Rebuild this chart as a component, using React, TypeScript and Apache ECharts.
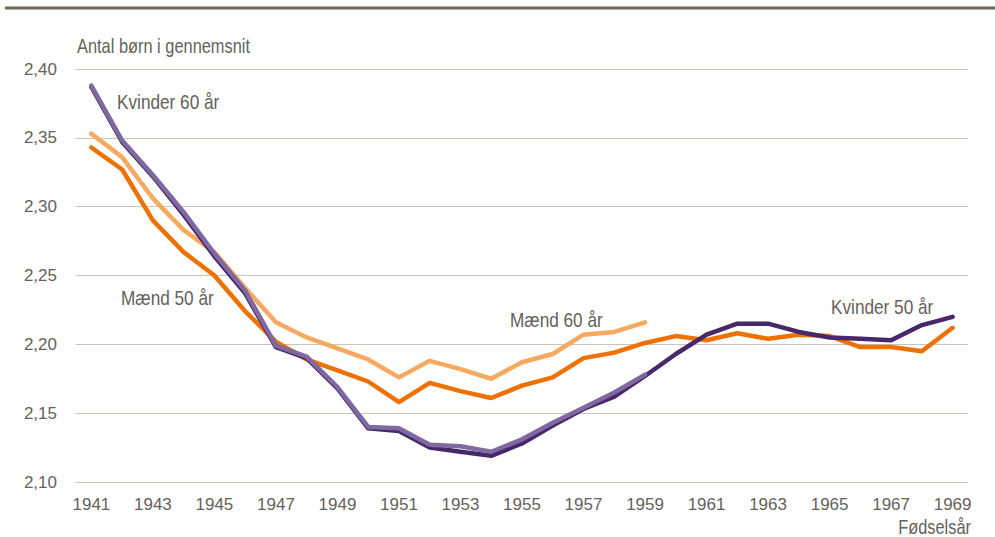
import React, { useEffect, useRef } from "react";
import * as echarts from "echarts";

const years = [
  "1941","1942","1943","1944","1945","1946","1947","1948","1949","1950",
  "1951","1952","1953","1954","1955","1956","1957","1958","1959","1960",
  "1961","1962","1963","1964","1965","1966","1967","1968","1969",
];

const maend50 = [
  2.343, 2.327, 2.290, 2.267, 2.250, 2.224, 2.202, 2.189, 2.181, 2.173,
  2.158, 2.172, 2.166, 2.161, 2.170, 2.176, 2.190, 2.194, 2.201, 2.206,
  2.203, 2.208, 2.204, 2.207, 2.206, 2.198, 2.198, 2.195, 2.212,
];

const maend60 = [
  2.353, 2.336, 2.306, 2.283, 2.267, 2.241, 2.216, 2.205, 2.197, 2.189,
  2.176, 2.188, 2.182, 2.175, 2.187, 2.193, 2.207, 2.209, 2.216,
];

const kvinder50 = [
  2.387, 2.347, 2.322, 2.294, 2.264, 2.237, 2.198, 2.190, 2.168, 2.139,
  2.137, 2.125, 2.122, 2.119, 2.128, 2.141, 2.153, 2.162, 2.177, 2.193,
  2.207, 2.215, 2.215, 2.209, 2.205, 2.204, 2.203, 2.214, 2.220,
];

const kvinder60 = [
  2.388, 2.348, 2.323, 2.296, 2.266, 2.239, 2.199, 2.191, 2.169, 2.140,
  2.139, 2.127, 2.126, 2.122, 2.131, 2.143, 2.154, 2.165, 2.178,
];

const FONT = "'Liberation Sans', Arial, sans-serif";
const TEXT = "#64625a";
const GRID = "#c9c6b7";
const NARROW = 0.82;

export default function App() {
  const ref = useRef<HTMLDivElement>(null);
  useEffect(() => {
    if (!ref.current) return;
    const chart = echarts.init(ref.current, null, { renderer: "svg" });
    const line = (name: string, data: number[], color: string, width: number) => ({
      name,
      type: "line",
      data,
      symbol: "none",
      lineStyle: { color, width, join: "round", cap: "round" },
      itemStyle: { color },
      silent: true,
    });
    const label = (text: string, x: number, y: number, align: string, size: number) => ({
      type: "text",
      x,
      y,
      scaleX: NARROW,
      style: { text, fill: TEXT, font: `${size}px ${FONT}`, verticalAlign: "middle", align },
    });
    chart.setOption({
      animation: false,
      grid: { left: 76, right: 27, top: 69, bottom: 55 },
      xAxis: {
        type: "category",
        data: years,
        boundaryGap: true,
        axisLine: { show: true, lineStyle: { color: GRID, width: 1 } },
        axisTick: { show: false },
        axisLabel: {
          interval: 1,
          color: TEXT,
          fontFamily: FONT,
          fontSize: 17,
          margin: 14,
        },
      },
      yAxis: {
        type: "value",
        min: 2.1,
        max: 2.4,
        interval: 0.05,
        axisLine: { show: false },
        axisTick: { show: false },
        splitLine: { lineStyle: { color: GRID, width: 1 } },
        axisLabel: {
          color: TEXT,
          fontFamily: FONT,
          fontSize: 17,
          margin: 19,
          formatter: (v: number) => v.toFixed(2).replace(".", ","),
        },
      },
      series: [
        line("Mænd 50 år", maend50, "#ee7203", 4.5),
        line("Mænd 60 år", maend60, "#f8a960", 4.5),
        line("Kvinder 50 år", kvinder50, "#46286b", 4.5),
        line("Kvinder 60 år", kvinder60, "#7e6aa1", 4.5),
      ],
      graphic: [
        {
          type: "line",
          shape: { x1: 5, y1: 8, x2: 995, y2: 8 },
          style: { stroke: "#6e6a58", lineWidth: 3 },
        },
        label("Antal børn i gennemsnit", 77, 46, "left", 20),
        label("Fødselsår", 971, 527, "right", 20),
        label("Kvinder 60 år", 117, 102, "left", 21),
        label("Mænd 50 år", 121, 298, "left", 21),
        label("Mænd 60 år", 510, 320, "left", 21),
        label("Kvinder 50 år", 831, 307, "left", 21),
      ],
    });
    return () => chart.dispose();
  }, []);
  return <div ref={ref} style={{ width: 995, height: 537, position: "absolute", left: 0, top: 0 }} />;
}
